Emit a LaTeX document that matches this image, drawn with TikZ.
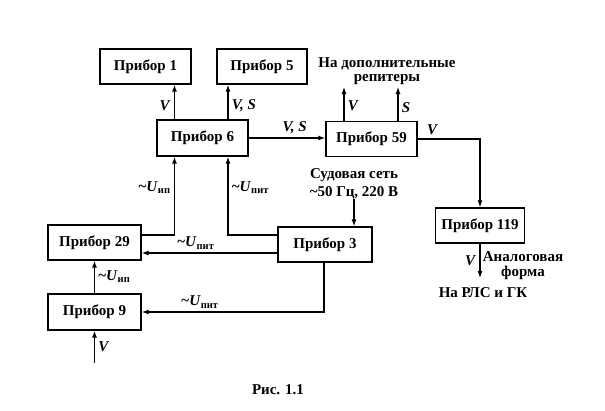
\documentclass[tikz,border=0pt]{standalone}
\usepackage{fontspec}
\setmainfont{Liberation Serif}
\usetikzlibrary{arrows.meta}
\newcommand{\Usig}[1]{\textasciitilde\textit{U}\textsubscript{#1}}
\begin{document}
\begin{tikzpicture}[x=1pt, y=-1pt,
    font=\fontsize{15}{17}\selectfont\bfseries,
    box/.style={draw, line width=1.3pt, minimum width=91pt, minimum height=35pt, inner sep=0pt},
    arr/.style={line width=1.2pt, -{Latex[length=7pt,width=5pt]}}]
  \useasboundingbox (0,0) rectangle (605,410);
  % blocks
  \node[box] (p1) at (145.5,66.5) {Прибор 1};
  \node[box, minimum width=90pt] (p5) at (262,66.5) {Прибор 5};
  \node[box, minimum height=36pt] (p6) at (202.5,138) {Прибор 6};
  \node[box] (p59) at (371.5,139) {Прибор 59};
  \node[box, minimum width=89pt] (p119) at (480,225.5) {Прибор 119};
  \node[box, minimum width=94pt] (p3) at (325,244.5) {Прибор 3};
  \node[box, minimum width=93pt] (p29) at (94.5,242.5) {Прибор 29};
  \node[box, minimum width=93pt, minimum height=36pt] (p9) at (94.5,312) {Прибор 9};
  % texts
  \node[align=center, inner sep=0pt] (rep) at (387,71) {На дополнительные\\[-3pt]репитеры};
  \node[align=center, inner sep=0pt] (net) at (354,184) {Судовая сеть\\[1pt]\textasciitilde50 Гц, 220 В};
  \node[align=center, inner sep=0pt] (ana) at (523,265.5) {Аналоговая\\[-2pt]форма};
  \node[inner sep=0pt] (rls) at (483,293) {На РЛС и ГК};
  \node[inner sep=0pt] (cap) at (278,390) {Рис. 1.1};
  \coordinate (vin) at (94.5,363);
  \coordinate (out) at (478,278);
  \coordinate (r59v) at (344,87);
  \coordinate (r59s) at (398,87);
  % connectors
  \draw[arr] ([xshift=-28pt]p6.north) -- ([xshift=-28pt]p6.north |- p1.south) node[pos=0.4, left] {\textit{V}};
  \draw[arr] ([xshift=25.5pt]p6.north) -- ([xshift=25.5pt]p6.north |- p5.south) node[pos=0.4, right] {\textit{V, S}};
  \draw[arr] (p6.east) -- (p6.east -| p59.west) node[pos=0.6, above] {\textit{V, S}};
  \draw[arr] (p59.north -| r59v) -- (r59v) node[pos=0.45, right] {\textit{V}};
  \draw[arr] (p59.north -| r59s) -- (r59s) node[pos=0.4, right] {\textit{S}};
  \draw[arr] (p59.east) -| (p119.north) node[pos=0.12, above] {\textit{V}};
  \draw[arr] (net.south) -- (net.south |- p3.north);
  \draw[arr] ([yshift=9.5pt]p3.west) -| ([xshift=25.5pt]p6.south) node[pos=0.8, right] {\Usig{пит}};
  \draw[arr] ([yshift=7.5pt]p29.east) -| ([xshift=-28pt]p6.south) node[pos=0.8, left] {\Usig{ип}};
  \draw[arr] ([yshift=-8.5pt]p3.west) -- ([yshift=-8.5pt]p3.west -| p29.east) node[pos=0.6, above] {\Usig{пит}};
  \draw[arr] ([xshift=-1pt]p3.south) |- (p9.east) node[pos=0.84, above] {\Usig{пит}};
  \draw[arr] (p9.north) -- (p29.south) node[midway, right] {\Usig{ип}};
  \draw[arr] (vin) -- (p9.south) node[midway, right] {\textit{V}};
  \draw[arr] (p119.south) -- (p119.south |- out) node[midway, left] {\textit{V}};
\end{tikzpicture}
\end{document}
